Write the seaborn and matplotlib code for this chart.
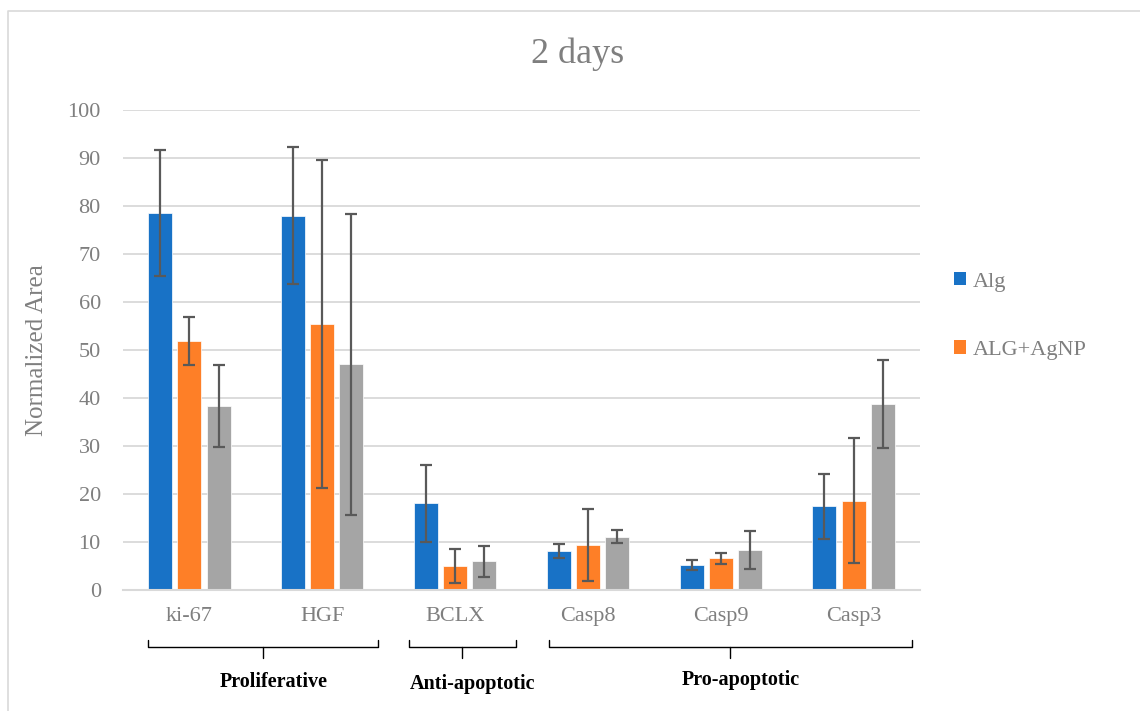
import matplotlib
matplotlib.use("Agg")
import matplotlib.pyplot as plt
import matplotlib.transforms as mtransforms
from matplotlib.patches import Patch
from matplotlib.lines import Line2D
import seaborn as sns
import pandas as pd

# ---- data ----
categories = ["ki-67", "HGF", "BCLX", "Casp8", "Casp9", "Casp3"]
series_names = ["Alg", "ALG+AgNP", "Series3"]
alg_values = [78.5, 78.0, 18.1, 8.1, 5.2, 17.4]
alg_err = [13.1, 14.3, 8.0, 1.5, 1.0, 6.7]
agnp_values = [51.9, 55.4, 5.0, 9.4, 6.6, 18.6]
agnp_err = [5.0, 34.2, 3.5, 7.5, 1.1, 13.0]
third_values = [38.3, 47.0, 6.0, 11.1, 8.3, 38.8]
third_err = [8.6, 31.4, 3.2, 1.3, 3.9, 9.2]
groups = ["Proliferative", "Anti-apoptotic", "Pro-apoptotic"]
legend_labels = ["Alg", "ALG+AgNP"]
title_text = "2 days"
ylabel_text = "Normalized Area"
yticks = [0, 10, 20, 30, 40, 50, 60, 70, 80, 90, 100]

colors = ["#1872c6", "#fe7f27", "#a5a5a5"]
text_gray = "#7f7f7f"
err_color = "#595959"

values_all = [alg_values, agnp_values, third_values]
errs_all = [alg_err, agnp_err, third_err]
df = pd.DataFrame({
    "category": [c for _ in series_names for c in categories],
    "series": [s for s in series_names for _ in categories],
    "value": [v for vals in values_all for v in vals],
})

sns.set_theme(style="white")
plt.rcParams["font.family"] = ["Liberation Serif", "DejaVu Serif"]

fig = plt.figure(figsize=(11.4, 7.11), dpi=100)
ax = fig.add_axes([123 / 1140, 1 - 590 / 711, (920 - 123) / 1140, (590 - 110) / 711])

sns.barplot(data=df, x="category", y="value", hue="series", order=categories,
            hue_order=series_names, palette=colors, width=0.66, gap=0.18,
            errorbar=None, legend=False, ax=ax, saturation=1,
            edgecolor="white", linewidth=0.5)

# error bars at bar centers
for cont, errs in zip(ax.containers, errs_all):
    xs = [p.get_x() + p.get_width() / 2 for p in cont.patches]
    ys = [p.get_height() for p in cont.patches]
    ax.errorbar(xs, ys, yerr=errs, fmt="none", ecolor=err_color,
                elinewidth=1.6, capsize=4.2, capthick=1.6, zorder=5)

ax.set_ylim(0, 100)
ax.set_xlim(-0.5, len(categories) - 0.5)
ax.set_yticks(yticks)
ax.yaxis.grid(True, color="#d9d9d9", linewidth=1.3)
ax.set_axisbelow(True)
for side in ["top", "right", "left"]:
    ax.spines[side].set_visible(False)
ax.spines["bottom"].set_color("#d9d9d9")
ax.spines["bottom"].set_linewidth(1.5)
ax.tick_params(axis="both", length=0, labelsize=16, labelcolor=text_gray)
ax.tick_params(axis="y", pad=16)
ax.tick_params(axis="x", pad=12)
ax.set_xlabel("")
ax.set_ylabel(ylabel_text, fontsize=18, color=text_gray, labelpad=14)

fig.text(578 / 1140, 1 - 54 / 711, title_text, fontsize=26, color=text_gray,
         ha="center", va="center")

# legend (only two entries shown in reference)
handles = [Patch(facecolor=colors[0], edgecolor="none"),
           Patch(facecolor=colors[1], edgecolor="none")]
fig.legend(handles, legend_labels, loc="upper left",
           bbox_to_anchor=(934 / 1140, 1 - 252 / 711), frameon=False,
           fontsize=16, labelcolor=text_gray, handlelength=0.55,
           handleheight=0.55, handletextpad=0.3, labelspacing=2.2)

# group brackets below categories
trans = mtransforms.blended_transform_factory(ax.transData, fig.transFigure)
bracket_spans = [(-0.31, 1.417), (1.65, 2.457), (2.706, 5.438)]
label_y = [682, 684, 680]
def fy(px):
    return 1 - px / 711
for (x0, x1), g, ly in zip(bracket_spans, groups, label_y):
    xm = (x0 + x1) / 2
    for xs_, ys_ in [([x0, x0, x1, x1], [640, 647, 647, 640]), ([xm, xm], [647, 658])]:
        ax.add_line(Line2D(xs_, [fy(v) for v in ys_], transform=trans,
                           color="black", linewidth=1.0, clip_on=False))
    ax.text(xm + 0.08, fy(ly), g, transform=trans, ha="center", va="center",
            fontsize=14.5, fontweight="bold", color="black")

# chart border (top and left edges)
fig.add_artist(Line2D([8 / 1140, 8 / 1140, 1.0], [0.0, fy(11), fy(11)],
                      transform=fig.transFigure, color="#d9d9d9", linewidth=1.2))

fig.savefig("out.png", dpi=100, facecolor="white")
